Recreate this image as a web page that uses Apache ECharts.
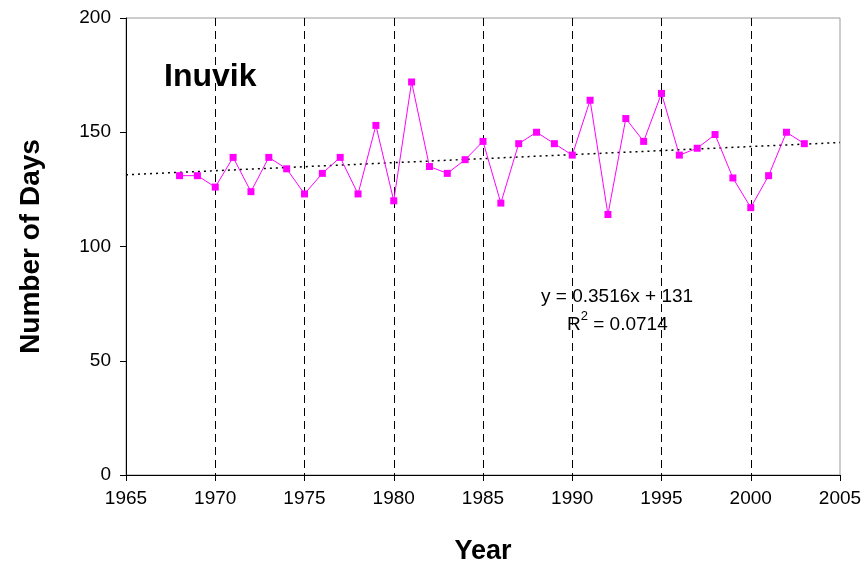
<!DOCTYPE html>
<html>
<head>
<meta charset="utf-8">
<style>
  html, body { margin: 0; padding: 0; background: #fff; }
  #chart { width: 865px; height: 567px; }
</style>
<script src="https://cdn.jsdelivr.net/npm/echarts@6/dist/echarts.min.js"></script>
</head>
<body>
<div id="chart"></div>
<script>
const years = [1968, 1969, 1970, 1971, 1972, 1973, 1974, 1975, 1976, 1977, 1978, 1979,
    1980, 1981, 1982, 1983, 1984, 1985, 1986, 1987, 1988, 1989, 1990, 1991,
    1992, 1993, 1994, 1995, 1996, 1997, 1998, 1999, 2000, 2001, 2002, 2003];
const days = [131, 131, 126, 139, 124, 139, 134, 123, 132, 139, 123, 153,
    120, 172, 135, 132, 138, 146, 119, 145, 150, 145, 140, 164,
    114, 156, 146, 167, 140, 143, 149, 130, 117, 131, 150, 145];
const trendYears = [1965, 2005];
const trendDays = [131.4, 145.5];
const equationText = "y = 0.3516x + 131";
const rSquaredValue = "0.0714";

const chart = echarts.init(document.getElementById("chart"));
const font = "Liberation Sans, Arial, sans-serif";

chart.setOption({
    animation: false,
    textStyle: {fontFamily: font},
    grid: {
        left: 126, right: 25, top: 18, bottom: 92,
        outerBoundsMode: "none",
        show: true, borderColor: "#999", borderWidth: 1
    },
    title: {
        text: "Inuvik",
        left: 159,
        top: 56,
        textStyle: {fontFamily: font, fontSize: 32, fontWeight: "bold", color: "#000"}
    },
    xAxis: {
        type: "value",
        min: 1965,
        max: 2005,
        interval: 5,
        name: "Year",
        nameLocation: "middle",
        nameGap: 63,
        nameTextStyle: {fontFamily: font, fontSize: 27, fontWeight: "bold", color: "#000"},
        axisLine: {show: true, onZero: false, lineStyle: {color: "#000", width: 1}},
        axisTick: {show: true, length: 6, lineStyle: {color: "#000"}},
        axisLabel: {fontSize: 19, color: "#000", margin: 14, formatter: v => String(v)},
        splitLine: {
            show: true,
            showMinLine: false,
            showMaxLine: false,
            lineStyle: {color: "#000", type: [8, 5], width: 1}
        }
    },
    yAxis: {
        type: "value",
        min: 0,
        max: 200,
        interval: 50,
        name: "Number of Days",
        nameLocation: "middle",
        nameGap: 81,
        nameTextStyle: {fontFamily: font, fontSize: 28, fontWeight: "bold", color: "#000"},
        axisLine: {show: true, lineStyle: {color: "#000", width: 1}},
        axisTick: {show: true, length: 6, lineStyle: {color: "#000"}},
        axisLabel: {fontSize: 19, color: "#000", margin: 15},
        splitLine: {show: false}
    },
    graphic: [
        {
            type: "text",
            left: 541,
            top: 287,
            style: {text: equationText, font: "19px " + font, fill: "#000"}
        },
        {
            type: "text",
            left: 567,
            top: 310,
            style: {
                text: "{b|R}{s|2}{b| = " + rSquaredValue + "}",
                fill: "#000",
                rich: {
                    b: {fontSize: 19, fontFamily: font, lineHeight: 24, verticalAlign: "bottom"},
                    s: {fontSize: 13, fontFamily: font, lineHeight: 24, verticalAlign: "top"}
                }
            }
        }
    ],
    series: [
        {
            type: "line",
            data: trendYears.map((y, i) => [y, trendDays[i]]),
            showSymbol: false,
            lineStyle: {color: "#000", width: 1.5, type: [2, 4]},
            z: 1
        },
        {
            type: "line",
            data: years.map((y, i) => [y, days[i]]),
            symbol: "rect",
            symbolSize: 7,
            itemStyle: {color: "#ff00ff"},
            lineStyle: {color: "#ff00ff", width: 1},
            z: 3
        }
    ]
});
</script>
</body>
</html>
